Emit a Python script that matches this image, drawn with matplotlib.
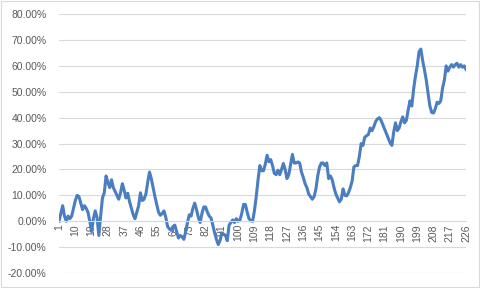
import matplotlib
matplotlib.use("Agg")
import matplotlib.pyplot as plt
from matplotlib.patches import Rectangle
from matplotlib.ticker import FuncFormatter

# Cumulative return (%) by period index 1..226
values = [
    0, 3, 6, 2, 0, 2, 1, 2, 5, 8,
    10, 9.5, 7, 4.5, 6, 5, 3.5, 0, -4, 1,
    4, 1.5, -5.5, 2, 9, 11, 17.5, 15, 13, 16,
    13, 11.5, 10, 8.5, 11, 14.5, 12, 9, 10.8, 7.5,
    5, 2.5, 1, 3.5, 6, 11, 8, 8.5, 10.5, 15,
    19, 16.5, 13, 9.5, 6.5, 3.5, 2.3, 3, 4, 1.5,
    -2, -3, -3.5, -2, -1.5, -4, -6.5, -5.5, -6, -7,
    -4, -0.5, 2.5, 2, 5, 7, 4.5, 1.5, -0.5, 3,
    5.5, 5.5, 3.5, 2, 1.3, -1.5, -4.5, -7, -9, -7.5,
    -4.5, -5, -5.5, -7.5, -1.5, -0.5, 0.5, -0.5, 1, 0,
    0.5, 3, 6.5, 6.5, 3.5, 1, 0.2, 0, 4, 9.5,
    16, 21.5, 19.5, 19.5, 22, 25.5, 23, 23.8, 21.5, 18.5,
    18, 19.7, 18, 20, 22.3, 20, 16.5, 18, 22, 25.8,
    22.5, 22.5, 22.9, 22.5, 19, 17, 14.5, 13, 10.5, 9.5,
    8.5, 9.5, 12.5, 17.5, 21, 22.5, 22.5, 21.5, 22.5, 16.5,
    17.5, 16, 13, 10.5, 9, 7.5, 8.5, 12.5, 10, 9.8,
    11, 13, 15.5, 21, 21.5, 21.5, 25, 30, 29.3, 32.5,
    33, 33.5, 36, 35, 36.5, 38.5, 39.5, 40, 39, 37.2,
    35.5, 33.8, 32, 30.3, 29.3, 34.5, 38, 35, 36, 38.5,
    40.3, 38, 39, 43, 46.5, 44.5, 51, 56, 60, 65.5,
    66.5, 62, 58.5, 54.5, 49.3, 44.5, 42, 41.8, 43.5, 46,
    45.5, 46.5, 51.5, 54.5, 60, 58, 59.5, 60.5, 59.5, 60.5,
    61, 59.5, 60.5, 59.5, 60, 58.6,
]
periods = list(range(1, len(values) + 1))
x_tick_labels = list(range(1, len(values) + 1, 9))
y_ticks = [-20, -10, 0, 10, 20, 30, 40, 50, 60, 70, 80]

plt.rcParams['font.family'] = ['Liberation Sans', 'DejaVu Sans']

fig = plt.figure(figsize=(4.8, 2.88), dpi=100)
fig.patches.append(Rectangle((0.002, 0.003), 0.995, 0.993, transform=fig.transFigure,
                             fill=False, edgecolor='#d9d9d9', linewidth=0.8))
ax = fig.add_axes([0.123, 0.052, 0.848, 0.899])

ax.plot(periods, values, color='#4a7ec0', linewidth=2.2, solid_joinstyle='round')

ax.set_xlim(1, len(values))
ax.set_ylim(-20, 80)
ax.grid(axis='y', color='#d9d9d9', linewidth=0.8)
ax.set_axisbelow(True)

for s in ['top', 'right', 'left']:
    ax.spines[s].set_visible(False)
ax.spines['bottom'].set_position(('data', 0))
ax.spines['bottom'].set_color('#d9d9d9')
ax.spines['bottom'].set_linewidth(0.8)

ax.set_yticks(y_ticks)
ax.yaxis.set_major_formatter(FuncFormatter(lambda v, p: f"{v:.2f}%"))
ax.set_xticks(x_tick_labels)
ax.set_xticklabels([str(v) for v in x_tick_labels])

ax.tick_params(axis='both', length=0, labelsize=7.5, labelcolor='#595959')
ax.tick_params(axis='x', pad=2, labelrotation=90)
ax.tick_params(axis='y', pad=9)
for lbl in ax.get_xticklabels():
    lbl.set_verticalalignment('top')
    lbl.set_horizontalalignment('center')

fig.savefig('out.png', dpi=100)
